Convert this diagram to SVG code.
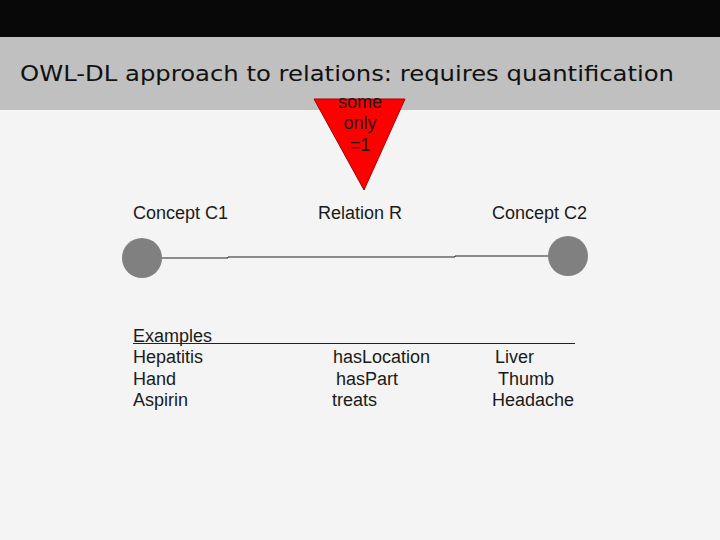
<svg xmlns="http://www.w3.org/2000/svg" width="720" height="540" viewBox="0 0 720 540">
<style>
.t{font-family:"Liberation Sans",Arial,sans-serif;font-size:18px;fill:#1a1a1a}
.title{font-family:"DejaVu Sans",Verdana,sans-serif;font-size:22px;fill:#111}
.node{fill:#808080}
</style>
<rect x="0" y="0" width="720" height="540" fill="#f4f4f4"/>
<rect x="0" y="0" width="720" height="37" fill="#080808"/>
<rect x="0" y="37" width="720" height="73" fill="#c0c0c0"/>
<text class="title" x="20" y="81" textLength="654" lengthAdjust="spacingAndGlyphs">OWL-DL approach to relations: requires quantification</text>
<g id="quantifier">
<polygon points="314,99 405,99 364,190" fill="#ff0000" stroke="#a00000" stroke-width="1"/>
<text class="t" x="360" y="108" text-anchor="middle" font-size="16" fill="#3a1a1a">some</text>
<text class="t" x="360" y="129" text-anchor="middle" font-size="16" fill="#3a1a1a">only</text>
<text class="t" x="360" y="151" text-anchor="middle" font-size="16" fill="#3a1a1a">=1</text>
</g>
<g id="connectors">
<polyline points="162,258 228,258 228,257 455,257 455,256 548,256" fill="none" stroke="#222" stroke-width="1"/>
</g>
<g id="c1">
<circle class="node" cx="142" cy="258" r="20"/>
<text class="t" x="133" y="219">Concept C1</text>
</g>
<g id="relation">
<text class="t" x="318" y="219">Relation R</text>
</g>
<g id="c2">
<circle class="node" cx="568" cy="256" r="20"/>
<text class="t" x="492" y="219">Concept C2</text>
</g>
<g id="examples">
<text class="t" x="133" y="342">Examples</text>
<line x1="133" y1="343.5" x2="575" y2="343.5" stroke="#222" stroke-width="1"/>
<text class="t" x="133" y="363">Hepatitis</text>
<text class="t" x="133" y="385">Hand</text>
<text class="t" x="133" y="406">Aspirin</text>
<text class="t" x="333" y="363">hasLocation</text>
<text class="t" x="336" y="385">hasPart</text>
<text class="t" x="332" y="406">treats</text>
<text class="t" x="495" y="363">Liver</text>
<text class="t" x="498" y="385">Thumb</text>
<text class="t" x="492" y="406">Headache</text>
</g>
</svg>
